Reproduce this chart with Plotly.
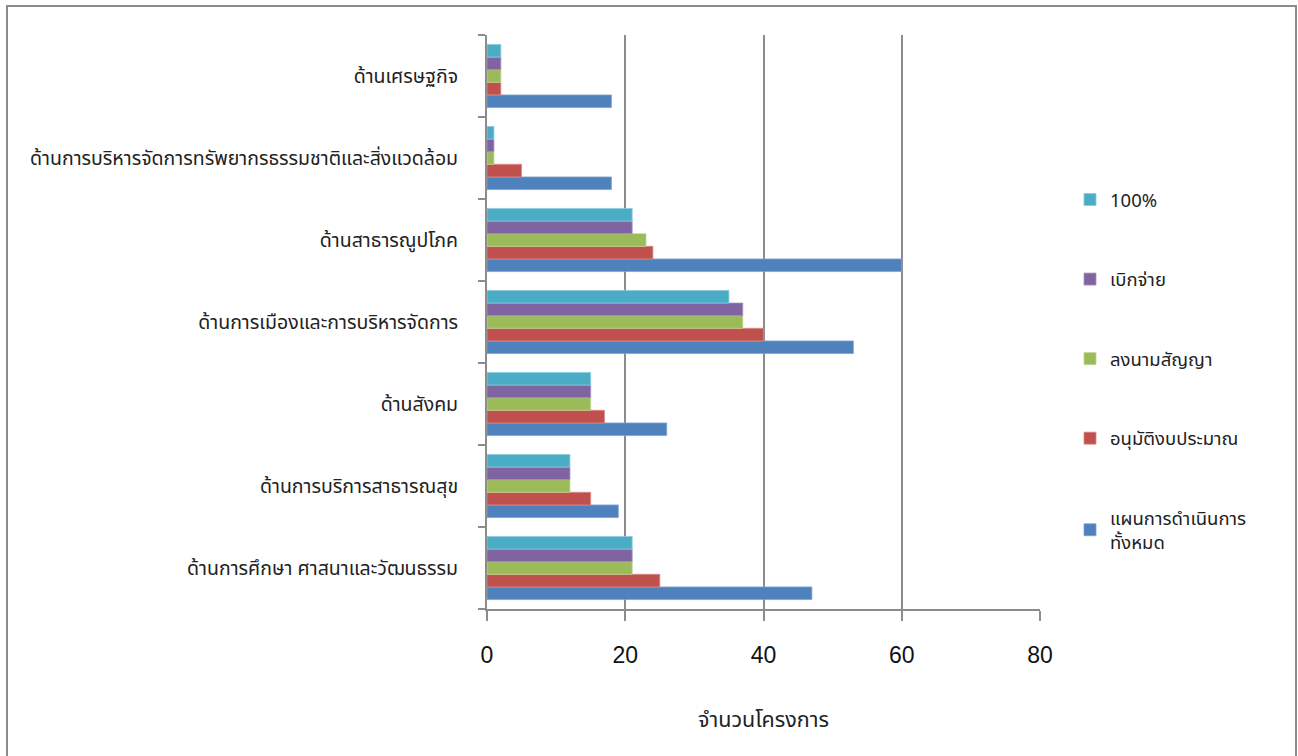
import plotly.graph_objects as go

categories = [
    "ด้านการศึกษา ศาสนาและวัฒนธรรม",
    "ด้านการบริการสาธารณสุข",
    "ด้านสังคม",
    "ด้านการเมืองและการบริหารจัดการ",
    "ด้านสาธารณูปโภค",
    "ด้านการบริหารจัดการทรัพยากรธรรมชาติและสิ่งแวดล้อม",
    "ด้านเศรษฐกิจ",
]

series_names = ["แผนการดำเนินการ<br>ทั้งหมด", "อนุมัติงบประมาณ", "ลงนามสัญญา", "เบิกจ่าย", "100%"]
total_plan = [47, 19, 26, 53, 60, 18, 18]
approved = [25, 15, 17, 40, 24, 5, 2]
signed = [21, 12, 15, 37, 23, 1, 2]
disbursed = [21, 12, 15, 37, 21, 1, 2]
complete = [21, 12, 15, 35, 21, 1, 2]
series_values = [total_plan, approved, signed, disbursed, complete]
colors = ["#4F81BD", "#C0504D", "#9BBB59", "#8064A2", "#4BACC6"]
line_colors = ["#7FA3D6", "#DA8A88", "#BFD68E", "#A791C2", "#8CCBDD"]

x_ticks = [0, 20, 40, 60, 80]
x_title = "จำนวนโครงการ"

FONT = "Noto Sans Thai, Tahoma, Noto Sans, sans-serif"

fig = go.Figure()
n = len(series_names)
for i, (name, vals, c, lc) in enumerate(zip(series_names, series_values, colors, line_colors)):
    fig.add_trace(go.Bar(
        y=categories, x=vals, name=name, orientation="h",
        marker=dict(color=c, line=dict(color=lc, width=0.8)),
        legendgroup=name, legendrank=100 * (n - i),
    ))

W, H = 1298, 756
L, R, T, B = 487, 1040, 35, 609
fig.update_layout(
    width=W, height=H,
    barmode="group", bargap=0.23, bargroupgap=0,
    plot_bgcolor="white", paper_bgcolor="white",
    margin=dict(l=L, r=W - R, t=T, b=H - B, autoexpand=False),
    font=dict(family=FONT, color="#222222", size=19),
    showlegend=True,
    legend=dict(
        traceorder="grouped", x=(1070 - L) / (R - L), xanchor="left",
        y=(B - 181) / (B - T), yanchor="top",
        tracegroupgap=52.5, font=dict(size=18.5, color="#222222"),
        itemwidth=30, bgcolor="rgba(0,0,0,0)",
    ),
    xaxis=dict(
        range=[0, 80], tickvals=x_ticks, showgrid=True,
        gridcolor="#8C8C8C", gridwidth=2,
        showline=True, linecolor="#8C8C8C", linewidth=2,
        ticks="outside", ticklen=10, tickcolor="#8C8C8C", tickwidth=2,
        ticklabelstandoff=14,
        tickfont=dict(size=23, family="Liberation Sans, Arial, sans-serif", color="#111111"),
        zeroline=False,
        title=dict(text=x_title, font=dict(size=21.5), standoff=45),
    ),
    yaxis=dict(
        categoryorder="array", categoryarray=categories,
        showline=True, linecolor="#8C8C8C", linewidth=2,
        ticks="outside", ticklen=7, tickcolor="#8C8C8C", tickwidth=2,
        tickson="boundaries", ticklabelstandoff=23,
        tickfont=dict(size=19.5, color="#222222"),
        showgrid=False,
    ),
    shapes=[dict(
        type="rect", xref="paper", yref="paper",
        x0=(7 - L) / (R - L), x1=(1296 - L) / (R - L),
        y0=(B - 770) / (B - T), y1=(B - 6) / (B - T),
        line=dict(color="#8C8C8C", width=2), fillcolor="rgba(0,0,0,0)", layer="below",
    )],
)

fig.write_html("out.html", config={"displayModeBar": False},
               post_script="document.body.style.margin='0';")
